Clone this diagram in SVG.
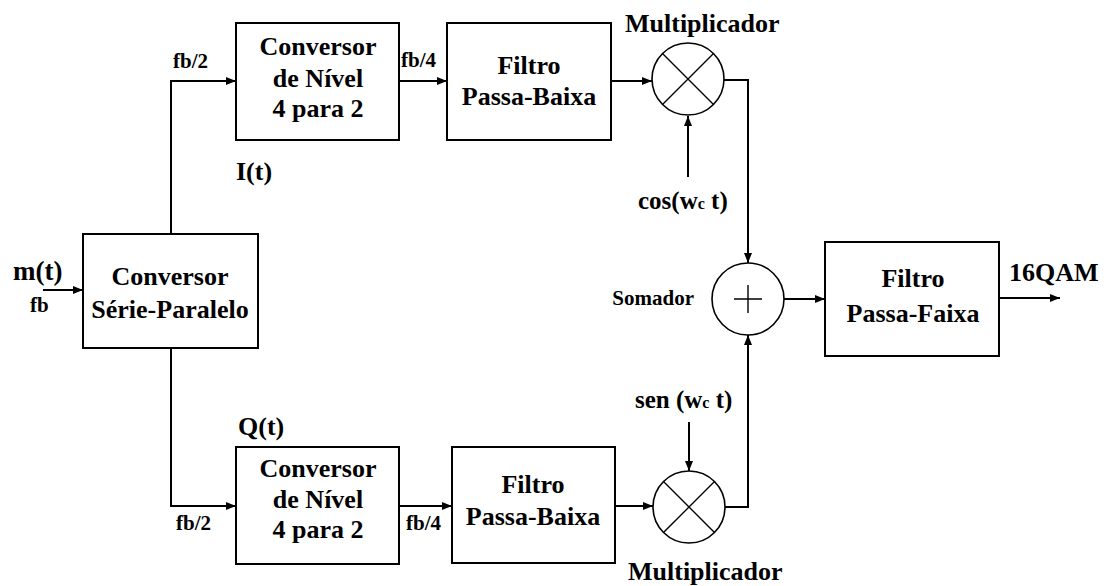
<svg xmlns="http://www.w3.org/2000/svg" width="1109" height="586" viewBox="0 0 1109 586">
  <defs>
    <marker id="arrow" markerWidth="10" markerHeight="8" refX="10" refY="4" orient="auto" markerUnits="userSpaceOnUse">
      <path d="M0,0 L10,4 L0,8 Z" fill="#000"/>
    </marker>
    <style>
      .box { fill: #fff; stroke: #000; stroke-width: 2; }
      .op { fill: #fff; stroke: #000; stroke-width: 1.6; }
      .sym { stroke: #000; stroke-width: 1.4; fill: none; }
      .wire { fill: none; stroke: #000; stroke-width: 2; }
      .arr { marker-end: url(#arrow); }
      .c { text-anchor: middle; }
    </style>
  </defs>
  <rect width="1109" height="586" fill="#fff"/>

  <!-- connectors -->
  <g id="connectors">
    <path class="wire arr" d="M43,290 L83,290"/>
    <path class="wire arr" d="M171,234 L171,81 L236,81"/>
    <path class="wire arr" d="M171,348 L171,506 L236,506"/>
    <path class="wire arr" d="M399,81 L447,81"/>
    <path class="wire arr" d="M611,81 L652,81"/>
    <path class="wire arr" d="M688,177 L688,116"/>
    <path class="wire arr" d="M724,80 L748,80 L748,263"/>
    <path class="wire arr" d="M399,506 L452,506"/>
    <path class="wire arr" d="M615,506 L653,506"/>
    <path class="wire arr" d="M689,422 L689,471"/>
    <path class="wire arr" d="M725,507 L748,507 L748,335"/>
    <path class="wire arr" d="M784,299 L825,299"/>
    <path class="wire arr" d="M999,298 L1060,298"/>
  </g>

  <g font-family="Liberation Serif, Times New Roman, serif" font-weight="bold" fill="#000">
    <!-- input -->
    <g id="input">
      <text font-size="27" x="13" y="280">m(t)</text>
      <text font-size="21" x="30" y="312">fb</text>
    </g>

    <!-- serial to parallel converter -->
    <g id="serie-paralelo">
      <rect class="box" x="83" y="234" width="175" height="114"/>
      <text class="c" font-size="26" x="170" y="285">Conversor</text>
      <text class="c" font-size="26" x="170" y="318">Série-Paralelo</text>
    </g>

    <!-- I branch -->
    <g id="conversor-i">
      <rect class="box" x="236" y="23" width="163" height="117"/>
      <text class="c" font-size="26" x="318" y="55">Conversor</text>
      <text class="c" font-size="26" x="318" y="87">de Nível</text>
      <text class="c" font-size="26" x="318" y="117">4 para 2</text>
    </g>
    <g id="label-i">
      <text font-size="21" x="173" y="68">fb/2</text>
      <text font-size="21" x="401" y="67">fb/4</text>
      <text font-size="26" x="236" y="180">I(t)</text>
    </g>
    <g id="filtro-i">
      <rect class="box" x="447" y="23" width="164" height="117"/>
      <text class="c" font-size="26" x="529" y="74">Filtro</text>
      <text class="c" font-size="26" x="529" y="105">Passa-Baixa</text>
    </g>
    <g id="multiplicador-i">
      <circle class="op" cx="688" cy="79" r="36"/>
      <path class="sym" d="M662.5,53.5 L713.5,104.5 M713.5,53.5 L662.5,104.5"/>
      <text font-size="26" x="625" y="32">Multiplicador</text>
      <text font-size="25" x="638" y="209">cos(w<tspan font-size="16">c</tspan> t)</text>
    </g>

    <!-- Q branch -->
    <g id="conversor-q">
      <rect class="box" x="236" y="447" width="163" height="117"/>
      <text class="c" font-size="26" x="318" y="477">Conversor</text>
      <text class="c" font-size="26" x="318" y="508">de Nível</text>
      <text class="c" font-size="26" x="318" y="538">4 para 2</text>
    </g>
    <g id="label-q">
      <text font-size="21" x="176" y="530">fb/2</text>
      <text font-size="21" x="406" y="530">fb/4</text>
      <text font-size="26" x="238" y="435">Q(t)</text>
    </g>
    <g id="filtro-q">
      <rect class="box" x="452" y="447" width="163" height="116"/>
      <text class="c" font-size="26" x="533" y="493">Filtro</text>
      <text class="c" font-size="26" x="533" y="525">Passa-Baixa</text>
    </g>
    <g id="multiplicador-q">
      <circle class="op" cx="689" cy="507" r="36"/>
      <path class="sym" d="M663.5,481.5 L714.5,532.5 M714.5,481.5 L663.5,532.5"/>
      <text font-size="26" x="628" y="580">Multiplicador</text>
      <text font-size="25" x="635" y="408">sen (w<tspan font-size="16">c</tspan> t)</text>
    </g>

    <!-- adder -->
    <g id="somador">
      <circle class="op" cx="748" cy="299" r="36"/>
      <path class="sym" d="M734,299 L762,299 M748,285 L748,313"/>
      <text font-size="21" x="694" y="305" text-anchor="end">Somador</text>
    </g>

    <!-- band-pass filter and output -->
    <g id="filtro-passa-faixa">
      <rect class="box" x="825" y="242" width="174" height="114"/>
      <text class="c" font-size="26" x="913" y="287">Filtro</text>
      <text class="c" font-size="26" x="913" y="322">Passa-Faixa</text>
    </g>
    <g id="output">
      <text font-size="26" x="1009" y="281">16QAM</text>
    </g>
  </g>
</svg>
